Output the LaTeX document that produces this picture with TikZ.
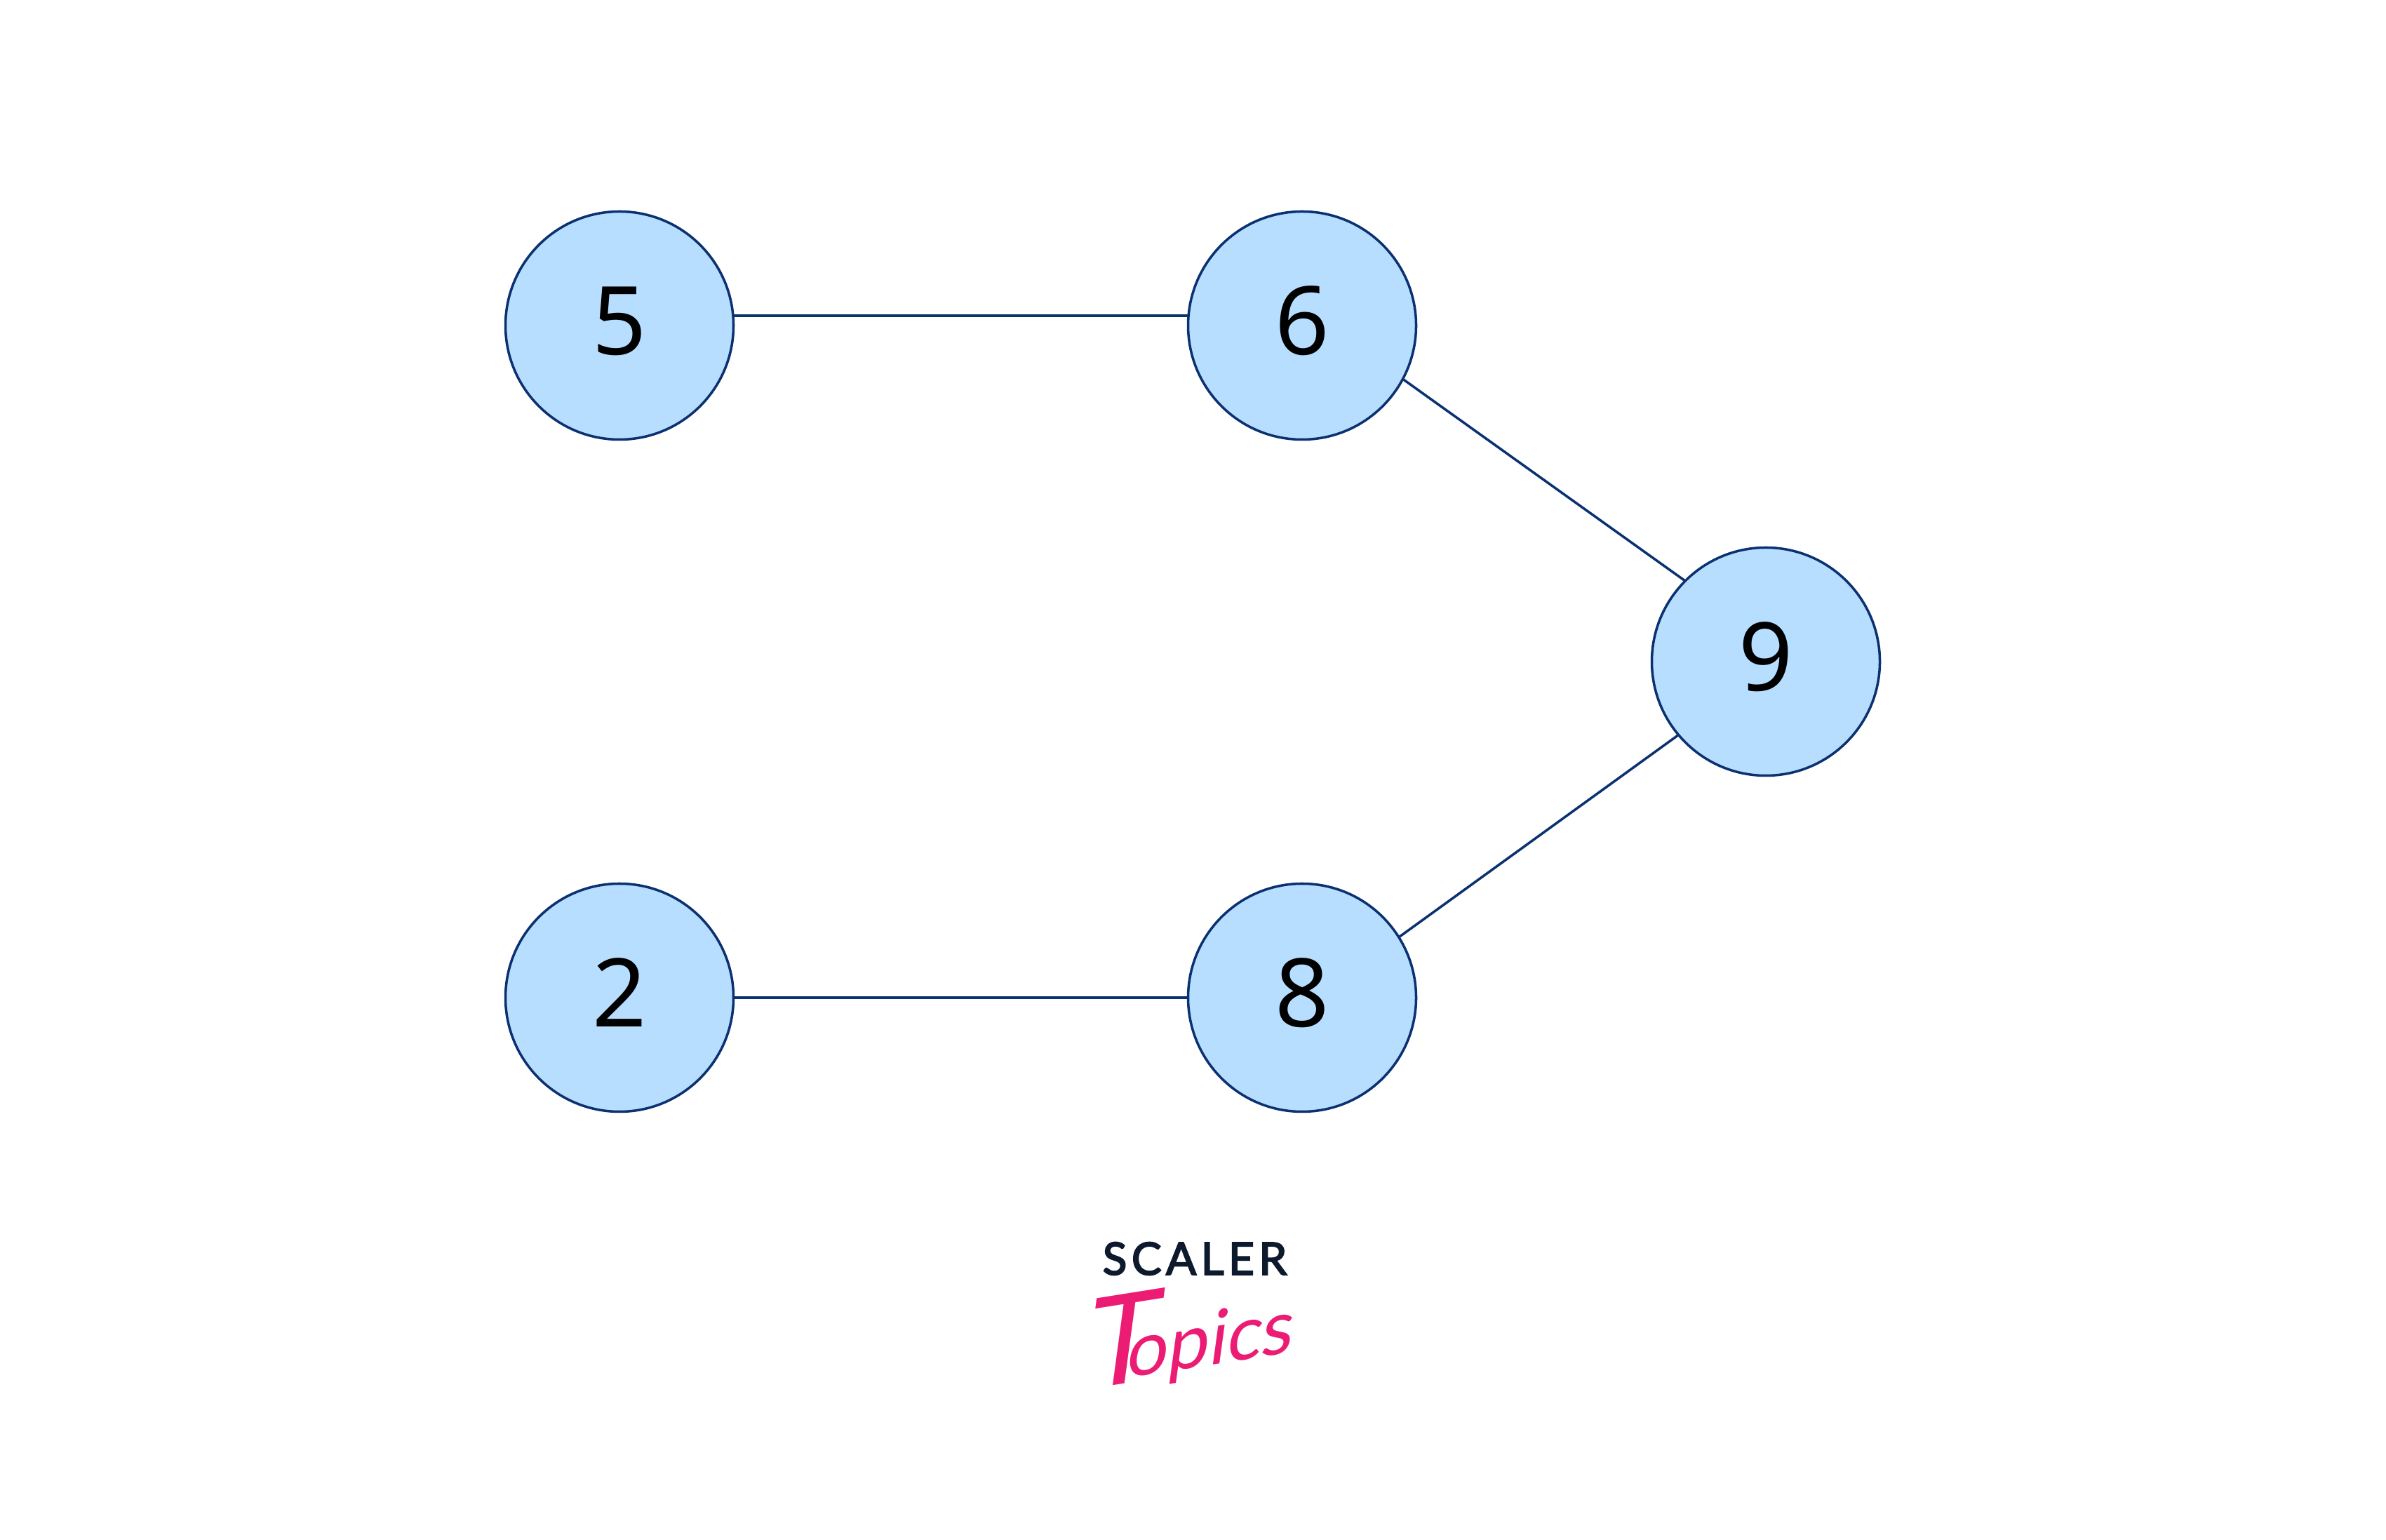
\documentclass[tikz,border=0pt]{standalone}
\usepackage{fontspec}
\setmainfont{Noto Sans}
\newfontfamily\scalerfont[LetterSpace=10,FakeBold=3]{Lato}
\newfontfamily\topicsfont[FakeSlant=0.3]{Lato}
\definecolor{nodefill}{HTML}{B8DEFF}
\definecolor{nodeline}{HTML}{0B3170}
\definecolor{scalerink}{HTML}{0D1A2D}
\definecolor{topicsink}{HTML}{EC1C74}
\tikzset{
  vertex/.style={circle,draw=nodeline,fill=nodefill,line width=1pt,minimum size=3.25cm,inner sep=0pt,outer sep=0pt,text=black,text height=.83cm,text depth=0pt,font=\fontsize{38.5}{40}\selectfont},
  edge/.style={draw=nodeline,line width=1pt}
}
\begin{document}
\begin{tikzpicture}
\useasboundingbox (0,0) rectangle (34.01,21.94);
\fill[white] (0,0) rectangle (34.01,21.94);
\node[vertex] (v5) at (8.83,17.30) {5};
\node[vertex] (v6) at (18.56,17.30) {6};
\node[vertex] (v9) at (25.17,12.51) {9};
\node[vertex] (v2) at (8.83,7.72) {2};
\node[vertex] (v8) at (18.56,7.72) {8};
\draw[edge] (v5.5) -- (v5.5 -| v6.175);
\draw[edge] (v6.-28) -- (v9.135);
\draw[edge] (v8.32) -- (v9.220);
\draw[edge] (v2.east) -- (v8.west);
\node[text=scalerink,font=\scalerfont\fontsize{18.2}{20}\selectfont] (scaler) at (17.03,4.0) {SCALER};
\node[text=topicsink,rotate=9,inner sep=0pt,font=\topicsfont\fontsize{50}{54}\selectfont] (topics) at (16.84,2.93) {T\kern-12pt\raisebox{2pt}{\fontsize{30}{31}\selectfont opics}};
\end{tikzpicture}
\end{document}
